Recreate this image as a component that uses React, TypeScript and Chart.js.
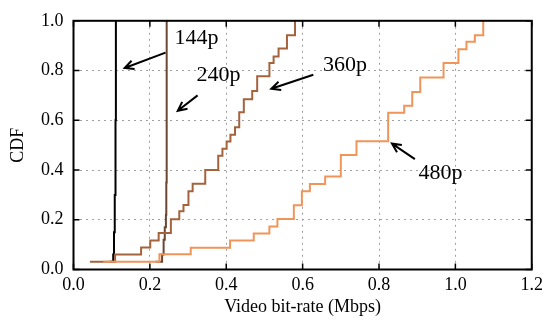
import React, { useEffect, useRef } from "react";
import { Chart, registerables } from "chart.js";

Chart.register(...registerables);

const x144 = [0.095, 0.104, 0.106, 0.108, 0.11, 0.111];
const y144 = [0.031, 0.06, 0.15, 0.3, 0.6, 1.0];

const x240 = [0.215, 0.232, 0.236, 0.239, 0.242, 0.243, 0.244];
const y240 = [0.031, 0.06, 0.12, 0.17, 0.22, 0.35, 1.0];

const x360 = [0.043, 0.109, 0.177, 0.201, 0.223, 0.255, 0.277, 0.288, 0.301, 0.312, 0.345, 0.379, 0.39, 0.401, 0.411, 0.423, 0.434, 0.446, 0.468, 0.481, 0.513, 0.524, 0.537, 0.559, 0.58];
const y360 = [0.031, 0.06, 0.088, 0.117, 0.147, 0.202, 0.234, 0.259, 0.315, 0.345, 0.4, 0.457, 0.486, 0.515, 0.542, 0.572, 0.632, 0.685, 0.718, 0.777, 0.83, 0.856, 0.889, 0.942, 1.0];

const x480 = [0.078, 0.225, 0.307, 0.41, 0.472, 0.513, 0.534, 0.577, 0.598, 0.619, 0.659, 0.7, 0.741, 0.824, 0.866, 0.887, 0.908, 0.969, 1.008, 1.029, 1.051, 1.073];
const y480 = [0.031, 0.061, 0.087, 0.117, 0.145, 0.173, 0.203, 0.258, 0.315, 0.344, 0.374, 0.46, 0.516, 0.63, 0.658, 0.714, 0.772, 0.83, 0.886, 0.916, 0.942, 1.0];

const xTicks = [0, 0.2, 0.4, 0.6, 0.8, 1.0, 1.2];
const yTicks = [0, 0.2, 0.4, 0.6, 0.8, 1.0];

const labelNames = ["144p", "240p", "360p", "480p"];
const labelX = [0.322, 0.38, 0.711, 0.961];
const labelY = [0.929, 0.782, 0.822, 0.386];
const arrowTailX = [0.241, 0.325, 0.628, 0.894];
const arrowTailY = [0.872, 0.7, 0.783, 0.444];
const arrowHeadX = [0.134, 0.273, 0.518, 0.834];
const arrowHeadY = [0.81, 0.638, 0.727, 0.506];

const FONT = "'Liberation Serif', 'DejaVu Serif', serif";

const pts = (xs: number[], ys: number[]) => xs.map((x, i) => ({ x, y: ys[i] }));

const decorPlugin = {
  id: "decor",
  afterDatasetsDraw(chart: any) {
    const { ctx, chartArea: a, scales } = chart;
    const xs = scales.x;
    const ys = scales.y;
    ctx.save();
    // inner ticks
    ctx.strokeStyle = "#000";
    ctx.lineWidth = 1.5;
    const tl = 6;
    xTicks.forEach((v) => {
      const px = xs.getPixelForValue(v);
      ctx.beginPath();
      ctx.moveTo(px, a.bottom);
      ctx.lineTo(px, a.bottom - tl);
      ctx.moveTo(px, a.top);
      ctx.lineTo(px, a.top + tl);
      ctx.stroke();
    });
    yTicks.forEach((v) => {
      const py = ys.getPixelForValue(v);
      ctx.beginPath();
      ctx.moveTo(a.left, py);
      ctx.lineTo(a.left + tl, py);
      ctx.moveTo(a.right, py);
      ctx.lineTo(a.right - tl, py);
      ctx.stroke();
    });
    // border
    ctx.lineWidth = 2;
    ctx.strokeRect(a.left, a.top, a.right - a.left, a.bottom - a.top);
    // labels + arrows
    ctx.fillStyle = "#000";
    ctx.font = `22px ${FONT}`;
    ctx.textAlign = "center";
    ctx.textBaseline = "middle";
    labelNames.forEach((t, i) => {
      ctx.fillText(t, xs.getPixelForValue(labelX[i]), ys.getPixelForValue(labelY[i]));
      const tx = xs.getPixelForValue(arrowTailX[i]);
      const ty = ys.getPixelForValue(arrowTailY[i]);
      const hx = xs.getPixelForValue(arrowHeadX[i]);
      const hy = ys.getPixelForValue(arrowHeadY[i]);
      const ang = Math.atan2(hy - ty, hx - tx);
      const hl = 10;
      ctx.lineWidth = 2;
      ctx.beginPath();
      ctx.moveTo(tx, ty);
      ctx.lineTo(hx, hy);
      ctx.moveTo(hx - hl * Math.cos(ang - 0.45), hy - hl * Math.sin(ang - 0.45));
      ctx.lineTo(hx, hy);
      ctx.lineTo(hx - hl * Math.cos(ang + 0.45), hy - hl * Math.sin(ang + 0.45));
      ctx.stroke();
    });
    ctx.restore();
  },
};

export default function App() {
  const ref = useRef<HTMLCanvasElement | null>(null);
  useEffect(() => {
    if (!ref.current) return;
    const ds = (label: string, xs: number[], ys: number[], color: string) => ({
      label,
      data: pts(xs, ys),
      borderColor: color,
      backgroundColor: color,
      borderWidth: 2,
      pointRadius: 0,
      stepped: "before" as const,
      fill: false,
    });
    const chart = new Chart(ref.current, {
      type: "line",
      data: {
        datasets: [
          ds("480p", x480, y480, "#f0955a"),
          ds("360p", x360, y360, "#a3633d"),
          ds("240p", x240, y240, "#6b4631"),
          ds("144p", x144, y144, "#000000"),
        ],
      },
      options: {
        responsive: false,
        animation: false,
        devicePixelRatio: 1,
        layout: { padding: { top: 17, right: 13, left: 0, bottom: 0 } },
        plugins: { legend: { display: false }, tooltip: { enabled: false } },
        scales: {
          x: {
            type: "linear",
            min: 0,
            max: 1.2,
            afterFit: (s: any) => {
              s.height = 54.5;
            },
            afterBuildTicks: (s: any) => {
              s.ticks = xTicks.map((v) => ({ value: v }));
            },
            ticks: {
              color: "#000",
              font: { family: FONT, size: 18 },
              padding: 5,
              maxRotation: 0,
              callback: (v: any) => Number(v).toFixed(1),
            },
            grid: { color: "#a0a0a0", lineWidth: 1, drawTicks: false },
            border: { display: false, dash: [2, 4] },
            title: {
              display: true,
              text: "Video bit-rate (Mbps)",
              color: "#000",
              font: { family: FONT, size: 18 },
              padding: { top: 0, bottom: 6 },
            },
          },
          y: {
            type: "linear",
            min: 0,
            max: 1,
            afterFit: (s: any) => {
              s.width = 73.5;
            },
            afterBuildTicks: (s: any) => {
              s.ticks = yTicks.map((v) => ({ value: v }));
            },
            ticks: {
              color: "#000",
              font: { family: FONT, size: 18 },
              padding: 10,
              callback: (v: any) => Number(v).toFixed(1),
            },
            grid: { color: "#a0a0a0", lineWidth: 1, drawTicks: false },
            border: { display: false, dash: [2, 4] },
            title: {
              display: true,
              text: "CDF",
              color: "#000",
              font: { family: FONT, size: 18 },
              padding: { top: 7, bottom: 0 },
            },
          },
        },
      },
      plugins: [decorPlugin],
    });
    return () => chart.destroy();
  }, []);
  return (
    <div style={{ position: "absolute", left: 0, top: 0, width: 548, height: 324, background: "#fff" }}>
      <canvas ref={ref} width={548} height={324} style={{ width: 548, height: 324 }} />
    </div>
  );
}
